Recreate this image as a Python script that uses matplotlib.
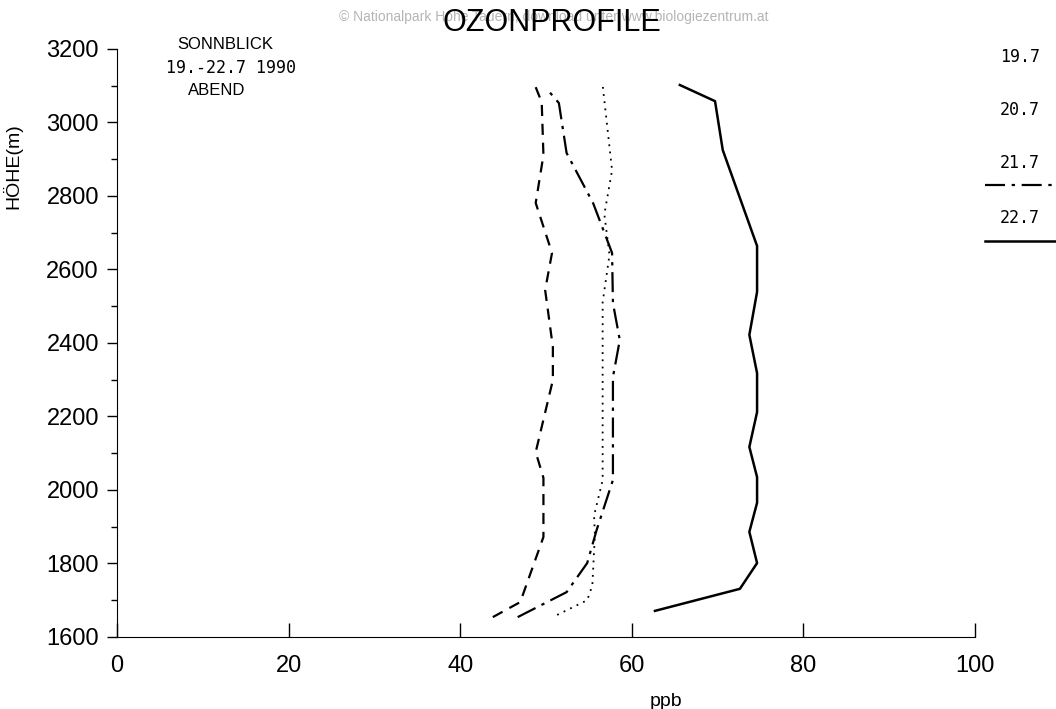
import matplotlib
matplotlib.use('Agg')
import matplotlib.pyplot as plt
from matplotlib.ticker import MultipleLocator

plt.rcParams['font.family'] = ['Liberation Sans', 'DejaVu Sans']

# Ozone profiles (ppb) vs height (m), Sonnblick, evening
h_19 = [1654, 1695, 1872, 2033, 2103, 2299, 2389, 2544, 2645, 2781, 2911, 3055, 3102]
o3_19 = [43.8, 47.0, 49.7, 49.7, 48.8, 50.8, 50.8, 49.9, 50.7, 48.8, 49.7, 49.5, 48.7]

h_20 = [1660, 1700, 1740, 1880, 1930, 2027, 2510, 2640, 2750, 2870, 3102]
o3_20 = [51.3, 54.8, 55.4, 55.7, 55.6, 56.6, 56.6, 57.4, 56.8, 57.7, 56.6]

h_21 = [1654, 1722, 1801, 1891, 2027, 2307, 2408, 2509, 2645, 2780, 2917, 3053, 3094]
o3_21 = [46.7, 52.4, 54.8, 55.9, 57.8, 57.8, 58.6, 57.8, 57.7, 55.5, 52.4, 51.5, 50.0]

h_22 = [1671, 1731, 1801, 1886, 1965, 2035, 2117, 2212, 2318, 2422, 2539, 2664, 2925, 3058, 3102]
o3_22 = [62.7, 72.6, 74.6, 73.7, 74.6, 74.6, 73.7, 74.6, 74.6, 73.7, 74.6, 74.6, 70.6, 69.7, 65.6]

legend_labels = ['19.7', '20.7', '21.7', '22.7']

fig = plt.figure(figsize=(10.56, 7.09), dpi=100)
ax = fig.add_axes([0.1108, 0.1016, 0.8125, 0.8293])

ax.plot(o3_19, h_19, color='black', lw=1.6, linestyle=(0, (5, 3.5)))
ax.plot(o3_20, h_20, color='black', lw=1.3, linestyle=(0, (1, 3)))
ax.plot(o3_21, h_21, color='black', lw=1.6, linestyle=(0, (9, 3, 1.5, 3)))
ax.plot(o3_22, h_22, color='black', lw=1.8, linestyle='-')

ax.set_xlim(0, 100)
ax.set_ylim(1600, 3200)
ax.xaxis.set_major_locator(MultipleLocator(20))
ax.yaxis.set_major_locator(MultipleLocator(200))
ax.yaxis.set_minor_locator(MultipleLocator(100))

ax.spines['top'].set_visible(False)
ax.spines['right'].set_visible(False)

ax.tick_params(axis='x', direction='in', length=10, width=1, pad=13, labelsize=17)
ax.tick_params(axis='y', which='major', direction='out', length=7, width=1, pad=6, labelsize=17)
ax.tick_params(axis='y', which='minor', direction='out', length=4, width=1)

ax.set_xlabel('ppb', fontsize=14)
ax.xaxis.set_label_coords(0.64, -0.095)
ax.set_ylabel('HÖHE(m)', fontsize=14)
ax.yaxis.set_label_coords(-0.11, 0.80)

fig.text(0.524, 0.976, '© Nationalpark Hohe Tauern, download unter www.biologiezentrum.at',
         ha='center', va='center', fontsize=10, color='#b5b5b5', zorder=0)
fig.text(0.523, 0.968, 'OZONPROFILE', ha='center', va='center', fontsize=22)

fig.text(0.168, 0.937, 'SONNBLICK', ha='left', va='center', fontsize=12)
fig.text(0.157, 0.904, '19.-22.7 1990', ha='left', va='center', fontsize=12,
         family='DejaVu Sans Mono')
fig.text(0.178, 0.873, 'ABEND', ha='left', va='center', fontsize=12)

# legend on the right
leg_y = [0.920, 0.845, 0.770, 0.693]
for lab, yy in zip(legend_labels, leg_y):
    fig.text(0.966, yy, lab, ha='center', va='center', fontsize=12,
             family='DejaVu Sans Mono')
fig.add_artist(plt.Line2D([0.933, 1.0], [0.739, 0.739], color='black', lw=1.6,
                          linestyle=(0, (9, 3, 1.5, 3)), transform=fig.transFigure))
fig.add_artist(plt.Line2D([0.933, 1.0], [0.660, 0.660], color='black', lw=1.8,
                          transform=fig.transFigure))

fig.savefig('out.png', dpi=100)
